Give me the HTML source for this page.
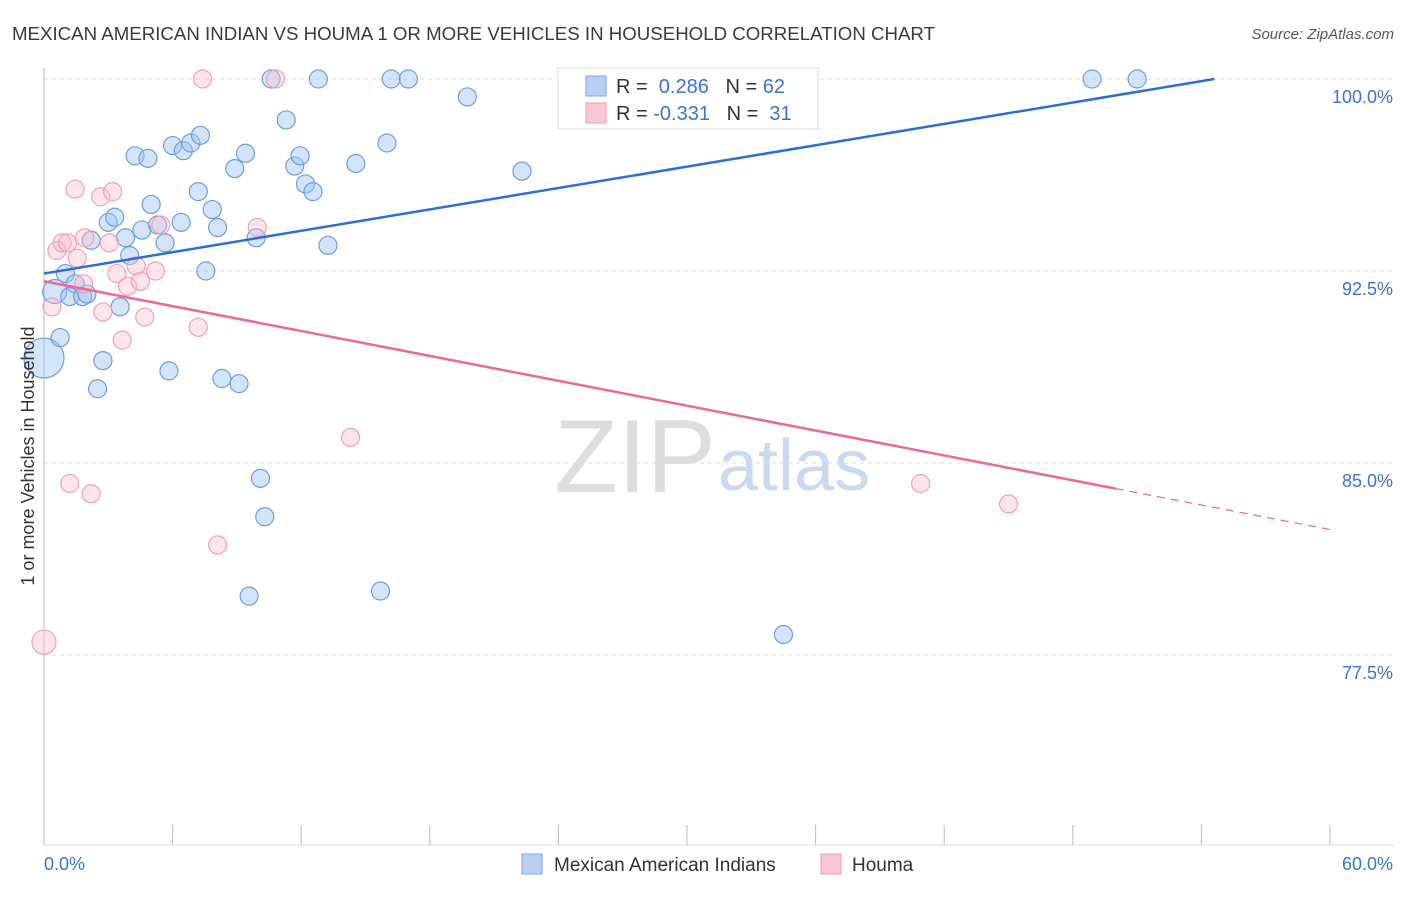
<!DOCTYPE html>
<html><head><meta charset="utf-8"><style>
body{margin:0;background:#fff;font-family:"Liberation Sans",sans-serif}
svg text{font-family:"Liberation Sans",sans-serif}
</style></head><body>
<svg id="c" width="1406" height="892">
<text x="12" y="40" font-size="18" fill="#3a3a3a" textLength="923" lengthAdjust="spacingAndGlyphs">MEXICAN AMERICAN INDIAN VS HOUMA 1 OR MORE VEHICLES IN HOUSEHOLD CORRELATION CHART</text>
<text x="1394" y="39" font-size="15" fill="#555" font-style="italic" text-anchor="end">Source: ZipAtlas.com</text>
<text x="716" y="492" font-size="104" fill="#ddd" text-anchor="end" font-family="Liberation Serif">ZIP</text>
<text x="718" y="490" font-size="72" fill="#c9d9f0">atlas</text>
<g id="grid"></g><g id="pts"></g><g id="lines"></g>
<text x="34" y="456" font-size="18" fill="#333" transform="rotate(-90 34 456)" text-anchor="middle">1 or more Vehicles in Household</text>
<text x="44" y="870" font-size="18" fill="#3b73d0">0.0%</text>
<text x="1393" y="870" font-size="18" fill="#3b73d0" text-anchor="end">60.0%</text>
<g>
<rect x="558" y="68" width="260" height="61" fill="#fff" stroke="#ddd"/>
<rect x="586" y="76" width="20" height="20" fill="#b8d0f4" stroke="#7aa5e6"/>
<rect x="586" y="103" width="20" height="20" fill="#f9c6d4" stroke="#f09ab2"/>
<text x="616" y="93" font-size="20" fill="#333">R = <tspan fill="#3b73d0">&#160;0.286</tspan>&#160;&#160;&#160;N = <tspan fill="#3b73d0">62</tspan></text>
<text x="616" y="120" font-size="20" fill="#333">R = <tspan fill="#3b73d0">-0.331</tspan>&#160;&#160;&#160;N = <tspan fill="#3b73d0">&#160;31</tspan></text>
</g>
<g>
<rect x="522" y="854" width="20" height="20" fill="#b8d0f4" stroke="#7aa5e6"/>
<text x="554" y="871" font-size="19" fill="#333">Mexican American Indians</text>
<rect x="821" y="854" width="20" height="20" fill="#f9c6d4" stroke="#f09ab2"/>
<text x="852" y="871" font-size="19" fill="#333">Houma</text>
</g>
</svg>
<script>
const yTicks=[100,92.5,85,77.5];
const yTickLabels=["100.0%","92.5%","85.0%","77.5%"];
const xTicks=[0,6,12,18,24,30,36,42,48,54,60];
const blueX=[0,0.75,0.5,1.0,1.45,1.2,1.8,2.0,2.2,2.5,2.75,3.0,3.3,3.55,3.8,4.0,4.25,4.57,4.85,5.0,5.3,5.65,5.83,6.0,6.4,6.5,6.85,7.2,7.3,7.55,7.85,8.1,8.3,8.9,9.1,9.4,9.57,9.9,10.1,10.3,10.6,11.3,11.7,11.95,12.2,12.55,12.8,13.25,14.55,15.7,16.0,16.2,17.0,19.75,22.3,26.1,28.65,29.1,31.6,34.5,48.9,51.0];
const blueY=[89.1,89.9,91.7,92.4,92.0,91.5,91.5,91.6,93.7,87.9,89.0,94.4,94.6,91.1,93.8,93.1,97.0,94.1,96.9,95.1,94.3,93.6,88.6,97.4,94.4,97.2,97.5,95.6,97.8,92.5,94.9,94.2,88.3,96.5,88.1,97.1,79.8,93.8,84.4,82.9,100,98.4,96.6,97.0,95.9,95.6,100,93.5,96.7,80.0,97.5,100,100,99.3,96.4,100,100,100,100,78.3,100,100];
const pinkX=[0,0.37,0.6,0.85,1.1,1.2,1.45,1.55,1.9,1.85,2.2,2.65,2.75,3.05,3.2,3.4,3.65,3.9,4.3,4.5,4.7,5.2,5.45,7.2,7.4,8.1,9.95,10.8,14.3,40.9,45.0];
const pinkY=[78.0,91.1,93.3,93.6,93.6,84.2,95.7,93.0,93.8,92.0,83.8,95.4,90.9,93.6,95.6,92.4,89.8,91.9,92.7,92.1,90.7,92.5,94.3,90.3,100,81.8,94.2,100,86.0,84.2,83.4];
const blueTrend=[[0,92.4],[54.6,100]];
const pinkTrend=[[0,92.1],[50,84.0]];
const pinkTrendDash=[[50,84.0],[60,82.4]];
const X=v=>44+v/60*1286, Y=v=>79+(100-v)*25.6;
const NS="http://www.w3.org/2000/svg";
function mk(t,a,p){const e=document.createElementNS(NS,t);for(const k in a)e.setAttribute(k,a[k]);p.appendChild(e);return e;}
const g=document.getElementById('grid');
yTicks.forEach((v,i)=>{
 const l=mk('line',{x1:44,x2:1394,y1:Y(v),y2:Y(v),stroke:'#ddd','stroke-dasharray':'4,4'},g);
 
 
 const t=mk('text',{x:1393,y:Y(v)+24,'font-size':18,fill:'#3b73d0','text-anchor':'end'},g);
 t.textContent=yTickLabels[i];
 
 
});
const ax=mk('line',{x1:44,x2:44,y1:68,y2:845,stroke:'#bbb'},g);


const bx=mk('line',{x1:44,x2:1394,y1:845,y2:845,stroke:'#ddd'},g);


xTicks.forEach(v=>{const t=mk('line',{x1:X(v),x2:X(v),y1:825,y2:845,stroke:'#bbb'},g);
 
 });
const p=document.getElementById('pts');
blueX.forEach((v,i)=>{const r=i==0?20:(i==2?12:9);
 const c=mk('circle',{cx:X(v),cy:Y(blueY[i]),r:r,fill:'rgba(160,195,240,0.45)',stroke:'#6e9de0','stroke-width':1.2},p);
 
 });
pinkX.forEach((v,i)=>{const r=i==0?12:9;
 const c=mk('circle',{cx:X(v),cy:Y(pinkY[i]),r:r,fill:'rgba(248,190,205,0.4)',stroke:'#f0a0b8','stroke-width':1.2},p);
 
 });
const L=document.getElementById('lines');
const b=mk('line',{x1:X(blueTrend[0][0]),y1:Y(blueTrend[0][1]),x2:X(blueTrend[1][0]),y2:Y(blueTrend[1][1]),stroke:'#2a6fd6','stroke-width':2.5},L);


const pk=mk('line',{x1:X(pinkTrend[0][0]),y1:Y(pinkTrend[0][1]),x2:X(pinkTrend[1][0]),y2:Y(pinkTrend[1][1]),stroke:'#e8699a','stroke-width':2.5},L);


const pd=mk('line',{x1:X(pinkTrendDash[0][0]),y1:Y(pinkTrendDash[0][1]),x2:X(pinkTrendDash[1][0]),y2:Y(pinkTrendDash[1][1]),stroke:'#e8699a','stroke-width':1.2,'stroke-dasharray':'8,6'},L);


</script>
</body></html>
